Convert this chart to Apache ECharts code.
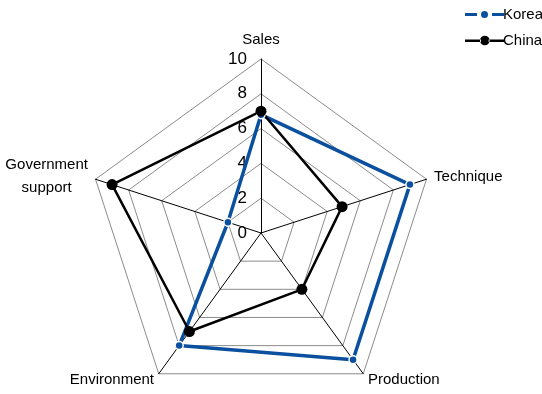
<!DOCTYPE html>
<html><head><meta charset="utf-8">
<script src="https://cdn.jsdelivr.net/npm/echarts@6/dist/echarts.min.js"></script>
<style>html,body{margin:0;padding:0;background:#fff}#c{width:542px;height:394px}</style>
</head><body><div id="c"></div>
<script>
const indicators = ['Sales', 'Technique', 'Production', 'Environment', 'Government\nsupport'];
const korea = [6.8, 9.0, 9.0, 8.0, 2.0];
const china = [7.0, 4.9, 4.0, 7.0, 9.0];
const seriesNames = ['Korea', 'China'];
const maxVal = 10;

// ECharts radar runs counter-clockwise; reorder so the categories run clockwise.
const order = [0, 4, 3, 2, 1];
const reorder = arr => order.map(i => arr[i]);

const chart = echarts.init(document.getElementById('c'), null, {renderer: 'canvas'});
const font = 'Liberation Sans, Arial, sans-serif';
chart.setOption({
  animation: false,
  backgroundColor: '#fff',
  textStyle: {fontFamily: font},
  legend: {
    orient: 'vertical', left: 460, top: 2, itemGap: 11,
    itemWidth: 42, itemHeight: 12,
    itemStyle: {borderWidth: 0},
    textStyle: {fontSize: 15, color: '#000', fontFamily: font, padding: [0,0,0,-9]},
    data: [
      {name: seriesNames[0], itemStyle: {borderWidth: 0, color: '#0a509f'},
       icon: 'path://M0,0h0.01v0.01h-0.01z M0,4.5h12v3h-12z M16,6a3.5,3.5 0 1,0 7,0a3.5,3.5 0 1,0 -7,0 M27,4.5h12v3h-12z M41.99,11.99h0.01v0.01h-0.01z'},
      {name: seriesNames[1], itemStyle: {borderWidth: 0, color: '#000'},
       icon: 'path://M0,0h0.01v0.01h-0.01z M0,5h16v2.4h-16z M15,6a4.8,4.8 0 1,0 9.6,0a4.8,4.8 0 1,0 -9.6,0 M23.6,5h16v2.4h-16z M41.99,11.99h0.01v0.01h-0.01z'}
    ]
  },
  radar: {
    center: [261, 233], radius: 174, startAngle: 90, shape: 'polygon',
    splitNumber: 5,
    indicator: reorder(indicators).map((n, i) => i === 0
      ? {name: n, min: 0, max: maxVal, axisLabel: {show: true, fontSize: 17, color: '#000', fontFamily: font, margin: 14}}
      : {name: n, min: 0, max: maxVal}),
    axisName: {
      color: '#000', fontSize: 15, fontFamily: font,
      formatter: v => v.split('\n').map(s => '{c|' + s + '}').join('\n'),
      rich: {c: {fontSize: 15, fontFamily: font, color: '#000', align: 'center', lineHeight: 23}}
    },
    nameGap: 8,
    axisLine: {lineStyle: {color: '#000', width: 1}},
    splitLine: {lineStyle: {color: '#8c8c8c', width: 1}},
    splitArea: {show: false},
    axisTick: {show: false},
    axisLabel: {show: false}
  },
  series: [{
    type: 'radar',
    data: [
      {value: reorder(korea), name: seriesNames[0], symbol: 'circle', symbolSize: 8,
       lineStyle: {color: '#0a509f', width: 3.5},
       itemStyle: {color: '#0a509f', borderColor: '#fff', borderWidth: 1.5}},
      {value: reorder(china), name: seriesNames[1], symbol: 'circle', symbolSize: 11,
       lineStyle: {color: '#000', width: 2.5},
       itemStyle: {color: '#000'}}
    ]
  }],
  color: ['#0a509f', '#000']
});
</script></body></html>
